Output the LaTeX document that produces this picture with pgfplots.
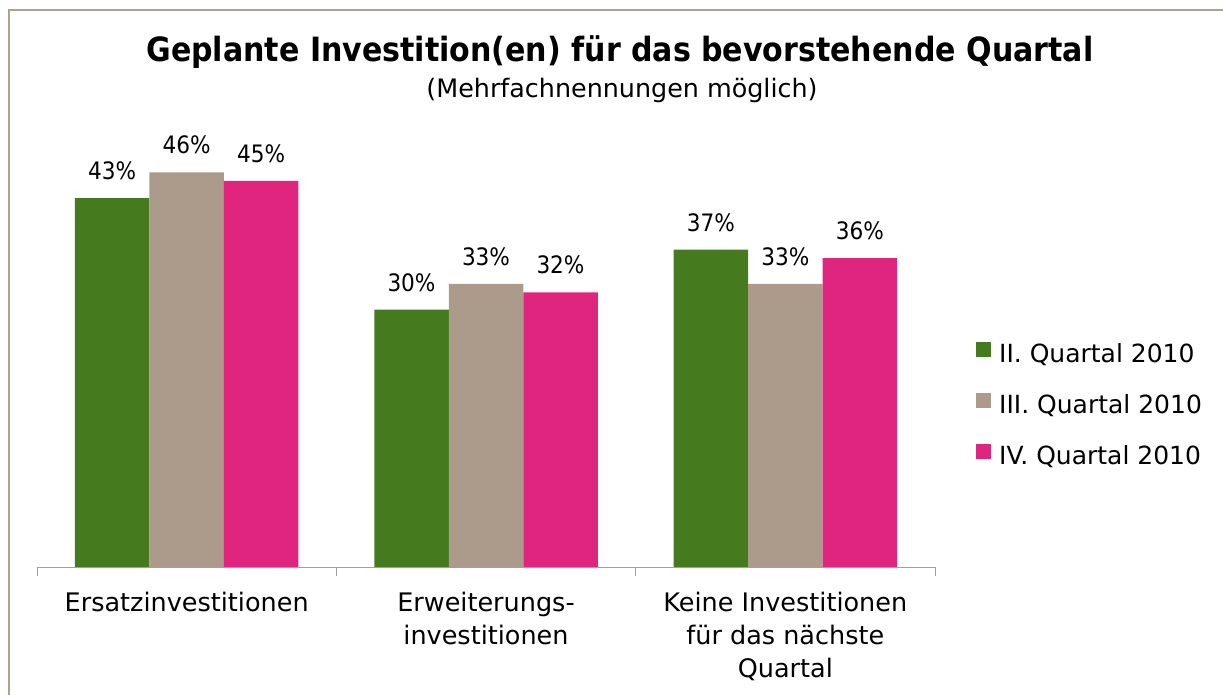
\documentclass[border=0pt]{standalone}
\usepackage{pgfplots}
\pgfplotsset{compat=1.18}
\usepackage{fontspec}
\setmainfont{DejaVu Sans Condensed}
\newfontfamily\regfont{DejaVu Sans}
\definecolor{cgreen}{RGB}{70,122,30}
\definecolor{ctan}{RGB}{172,154,138}
\definecolor{cpink}{RGB}{224,37,127}
\definecolor{cframe}{RGB}{176,160,140}
\definecolor{caxis}{RGB}{160,160,160}
\begin{document}
\begin{tikzpicture}
\path[use as bounding box] (0,0) rectangle (1223bp,695bp);
\draw[cframe, line width=1.5bp] (9bp,0) -- (9bp,685bp) -- (1223bp,685bp);
\node[anchor=base, font=\fontsize{33.4bp}{40bp}\selectfont\bfseries] at (620bp,633bp) {Geplante Investition(en) für das bevorstehende Quartal};
\node[anchor=base, font=\regfont\fontsize{25.4bp}{30bp}\selectfont] at (622bp,597bp) {(Mehrfachnennungen möglich)};
\begin{axis}[
  at={(37bp,128bp)}, anchor=south west,
  scale only axis, width=898bp, height=429bp,
  xmin=-0.5, xmax=2.5, ymin=0, ymax=50,
  axis x line*=bottom, axis y line=none,
  x axis line style={caxis, line width=1bp, -},
  ybar=0pt, bar width=74.5bp,
  xtick={0,1,2},
  xticklabels={Ersatzinvestitionen, Erweiterungs-\\investitionen, Keine Investitionen\\für das nächste\\Quartal},
  major tick length=0pt,
  xticklabel style={align=center, anchor=north, inner sep=0pt, font=\regfont\fontsize{25.5bp}{33bp}\selectfont},
  xticklabel shift=25bp,
  extra x ticks={-0.5,0.5,1.5,2.5},
  extra x tick labels={},
  extra x tick style={tick align=outside, major tick length=9bp, tick style={caxis, line width=1bp}},
  ytick=\empty,
  /pgf/number format/assume math mode=true,
  nodes near coords={\pgfmathprintnumber[fixed,precision=0]{\pgfplotspointmeta}\%},
  every node near coord/.append style={anchor=base, inner sep=0pt, yshift=18.5bp, font=\fontsize{24bp}{30bp}\selectfont, text=black},
  legend style={at={(1.0456,0.375)}, anchor=west, draw=none, fill=none, inner sep=0pt,
    nodes={inner sep=0pt, text height=19bp, text depth=5bp, font=\regfont\fontsize{25bp}{30bp}\selectfont},
    row sep=25.5bp},
  /tikz/every odd column/.append style={column sep=8bp},
  legend cell align=left,
  legend image code/.code={\fill[#1] (0bp,-1.5bp) rectangle (15bp,13.5bp);},
]
\addplot[fill=cgreen, draw=none] coordinates {(0,43) (1,30) (2,37)};
\addplot[fill=ctan, draw=none] coordinates {(0,46) (1,33) (2,33)};
\addplot[fill=cpink, draw=none] coordinates {(0,45) (1,32) (2,36)};
\legend{II. Quartal 2010, III. Quartal 2010, IV. Quartal 2010}
\end{axis}
\end{tikzpicture}
\end{document}
